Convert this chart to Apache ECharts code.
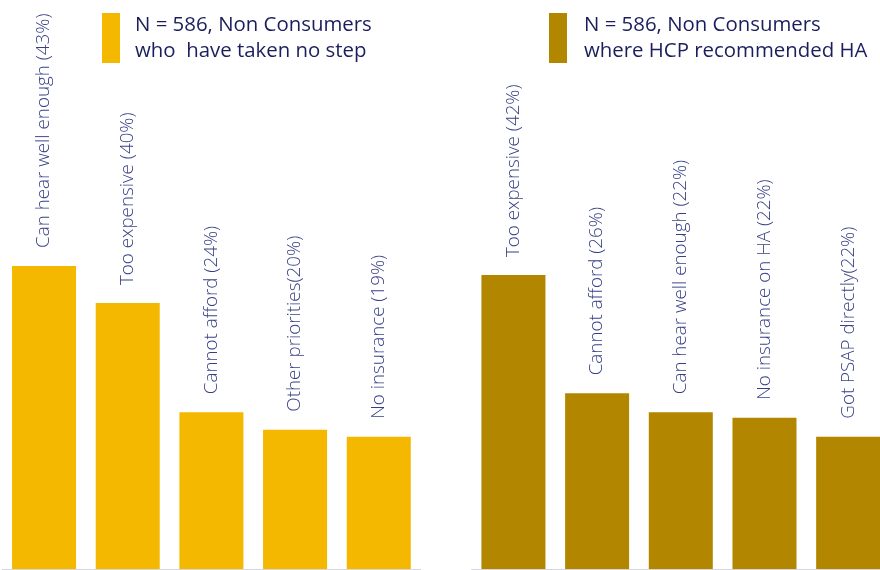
<!DOCTYPE html>
<html>
<head>
<meta charset="utf-8">
<script src="https://cdn.jsdelivr.net/npm/echarts@6/dist/echarts.min.js"></script>
<style>
html,body{margin:0;padding:0;background:#fff;}
#chart{width:880px;height:570px;}
</style>
</head>
<body>
<div id="chart"></div>
<script>
// Data
var leftCategories = ['Can hear well enough (43%)', 'Too expensive (40%)', 'Cannot afford (24%)', 'Other priorities(20%)', 'No insurance (19%)'];
var leftValues = [43.3, 38.0, 22.4, 19.9, 18.9];
var rightCategories = ['Too expensive (42%)', 'Cannot afford (26%)', 'Can hear well enough (22%)', 'No insurance on HA (22%)', 'Got PSAP directly(22%)'];
var rightValues = [42.0, 25.1, 22.4, 21.6, 18.9];
var leftSeriesName = 'N = 586, Non Consumers\nwho  have taken no step';
var rightSeriesName = 'N = 586, Non Consumers\nwhere HCP recommended HA';

var labelFont = '"Open Sans", "Noto Sans", sans-serif';
var labelColor = '#363f84';
var legendColor = '#1a1e5c';

function xAxisFor(idx, cats) {
  return {
    type: 'category', gridIndex: idx, data: cats,
    axisLine: { show: true, lineStyle: { color: '#d6d6de', width: 1 } },
    axisTick: { show: false }, axisLabel: { show: false }, splitLine: { show: false }
  };
}
function yAxisFor(idx) {
  return {
    type: 'value', gridIndex: idx, min: 0, max: 80,
    axisLine: { show: false }, axisTick: { show: false }, axisLabel: { show: false }, splitLine: { show: false }
  };
}
function seriesFor(idx, name, values, cats, color) {
  return {
    type: 'bar', name: name, xAxisIndex: idx, yAxisIndex: idx,
    data: values, barCategoryGap: '23.5%',
    itemStyle: { color: color },
    label: {
      show: true, position: 'top', rotate: 90, distance: 18,
      align: 'left', verticalAlign: 'middle',
      fontFamily: labelFont, fontWeight: 300, fontSize: 18.8, color: labelColor,
      formatter: function (p) { return cats[p.dataIndex]; }
    }
  };
}

var chart = echarts.init(document.getElementById('chart'), null, { renderer: 'canvas' });
chart.setOption({
  animation: false,
  backgroundColor: '#ffffff',
  grid: [
    { left: 2.2, width: 418.4, top: 9, bottom: 1, containLabel: false, outerBoundsMode: 'none' },
    { left: 471.6, width: 418.4, top: 9, bottom: 1, containLabel: false, outerBoundsMode: 'none' }
  ],
  xAxis: [xAxisFor(0, leftCategories), xAxisFor(1, rightCategories)],
  yAxis: [yAxisFor(0), yAxisFor(1)],
  legend: [
    {
      data: [leftSeriesName], left: 97, top: 5, icon: 'rect', itemWidth: 18, itemHeight: 50,
      selectedMode: false,
      textStyle: { fontFamily: labelFont, fontSize: 20.4, color: legendColor, lineHeight: 26, padding: [4, 0, 0, 10] }
    },
    {
      data: [rightSeriesName], left: 544, top: 5, icon: 'rect', itemWidth: 18, itemHeight: 50,
      selectedMode: false,
      textStyle: { fontFamily: labelFont, fontSize: 20.4, color: legendColor, lineHeight: 26, padding: [4, 0, 0, 12] }
    }
  ],
  series: [
    seriesFor(0, leftSeriesName, leftValues, leftCategories, '#f5b800'),
    seriesFor(1, rightSeriesName, rightValues, rightCategories, '#b38600')
  ]
});
</script>
</body>
</html>
